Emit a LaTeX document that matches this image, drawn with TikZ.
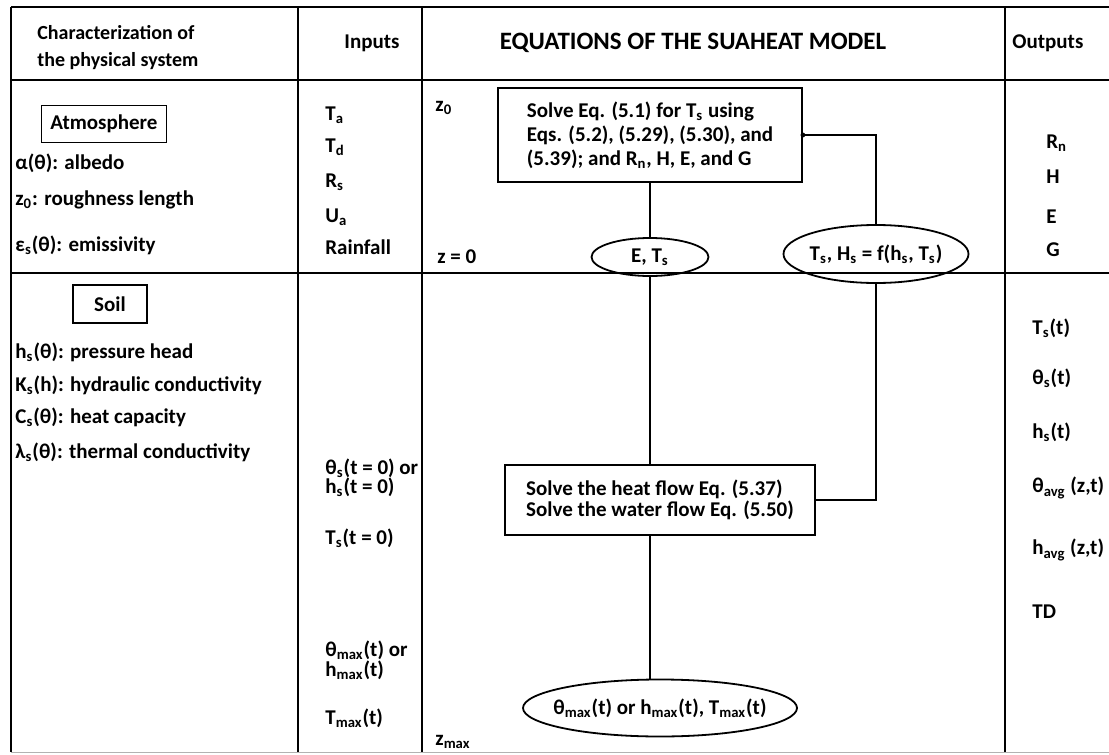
\documentclass[tikz,border=0pt]{standalone}
\usepackage{fontspec}
\setmainfont{Carlito}
\usetikzlibrary{positioning, shapes.geometric, calc}

\newcommand{\sbs}[1]{\textsubscript{#1}}

\begin{document}
\begin{tikzpicture}[
    x=0.5pt, y=-0.5pt,
    every node/.style={font=\bfseries\fontsize{10.5}{12}\selectfont},
    txt/.style={anchor=west, inner sep=0pt},
    rule/.style={line width=1pt},
    sysbox/.style={draw, line width=0.9pt, rectangle, inner sep=0pt},
    eqbox/.style={draw, line width=0.9pt, rectangle, align=left, inner sep=0pt},
    stateell/.style={draw, line width=0.9pt, ellipse, inner sep=0pt},
    link/.style={line width=0.9pt},
    feed/.style={line width=0.6pt},
]
    \useasboundingbox (0,0) rectangle (1109,755);

    % Table frame
    \draw[rule] (11,7) -- (1109,7);
    \draw[rule] (11,80) -- (1109,80);
    \draw[rule] (11,273) -- (1109,273);
    \draw[line width=0.5pt, gray!60] (11,752) -- (1109,752);
    \draw[rule] (11,7) -- (11,752);
    \foreach \x in {298,422,1005}
        \draw[rule] (\x,7) -- (\x,752);

    % Column headers
    \node[txt, align=left, font=\bfseries\fontsize{10}{13.5}\selectfont] (hchar) at (37,48)
        {Characterization of\\the physical system};
    \node (hin) at (372,43) {Inputs};
    \node[font=\bfseries\fontsize{12.5}{14}\selectfont] (heq) at (693,43) {EQUATIONS OF THE SUAHEAT MODEL};
    \node[txt] (hout) at (1012,43) {Outputs};

    % Physical system
    \node[sysbox, minimum width=62.5pt, minimum height=18.5pt] (atm) at (104,124) {Atmosphere};
    \node[txt] (albedo) at (15,163) {α(θ): albedo};
    \node[txt] (rough) at (15,200) {z\sbs{0}: roughness length};
    \node[txt] (emis) at (15,245) {ε\sbs{s}(θ): emissivity};

    \node[sysbox, minimum width=37pt, minimum height=19pt] (soil) at (110,304) {Soil};
    \node[txt] (phead) at (15,352) {h\sbs{s}(θ): pressure head};
    \node[txt] (hcond) at (15,385) {K\sbs{s}(h): hydraulic conductivity};
    \node[txt] (hcap) at (15,417) {C\sbs{s}(θ): heat capacity};
    \node[txt] (tcond) at (15,452) {λ\sbs{s}(θ): thermal conductivity};

    % Inputs
    \node[txt] (ta) at (325,115) {T\sbs{a}};
    \node[txt] (td) at (325,147) {T\sbs{d}};
    \node[txt] (rs) at (325,182) {R\sbs{s}};
    \node[txt] (ua) at (325,217) {U\sbs{a}};
    \node[txt] (rain) at (325,247) {Rainfall};
    \node[txt] (thini) at (325,468) {θ\sbs{s}(t = 0) or};
    \node[txt] (hini) at (325,487) {h\sbs{s}(t = 0)};
    \node[txt] (tini) at (325,538) {T\sbs{s}(t = 0)};
    \node[txt] (thmax) at (325,650) {θ\sbs{max}(t) or};
    \node[txt] (hmax) at (325,670) {h\sbs{max}(t)};
    \node[txt] (tmax) at (325,718) {T\sbs{max}(t)};

    % Depth marks
    \node[txt] (ztop) at (435,108) {z\sbs{0}};
    \node[txt] (zsurf) at (437,257) {z = 0};
    \node[txt] (zbot) at (435,742) {z\sbs{max}};

    % Model equations
    \node[eqbox, minimum width=152pt, minimum height=47pt] (solvesurf) at (650,135)
        {Solve Eq. (5.1) for T\sbs{s} using\\Eqs. (5.2), (5.29), (5.30), and\\(5.39); and R\sbs{n}, H, E, and G};
    \node[stateell, minimum width=58.5pt, minimum height=19pt,
          label=center:{E, T\sbs{s}}] (ellsurf) at (650,257) {};
    \node[stateell, minimum width=92.5pt, minimum height=29pt,
          label=center:{T\sbs{s}, H\sbs{s} = f(h\sbs{s}, T\sbs{s})}] (ellflux) at (876,254) {};
    \node[eqbox, minimum width=155pt, minimum height=35pt,
          font=\bfseries\fontsize{10.5}{10.5}\selectfont] (solveflow) at (660,500)
        {Solve the heat flow Eq. (5.37)\\Solve the water flow Eq. (5.50)};
    \node[stateell, minimum width=137pt, minimum height=28.5pt,
          label=center:{θ\sbs{max}(t) or h\sbs{max}(t), T\sbs{max}(t)}] (ellbot) at (660,708) {};

    \draw[link] (solvesurf) -- (ellsurf);
    \draw[link] (ellsurf.south) -- (ellsurf.south |- solveflow.north);
    \draw[link] (ellsurf.south |- solveflow.south) -- (ellsurf.south |- ellbot.north);
    \fill (solvesurf.east) circle (1.2pt);
    \draw[feed] (solvesurf.east) -| (ellflux.north);
    \draw[feed] (solveflow.east) -| (ellflux.south);

    % Outputs
    \node[txt] (rn) at (1046,143) {R\sbs{n}};
    \node[txt] (hout1) at (1046,177) {H};
    \node[txt] (eout) at (1046,217) {E};
    \node[txt] (gout) at (1046,250) {G};
    \node[txt] (tsout) at (1032,328) {T\sbs{s}(t)};
    \node[txt] (thout) at (1032,378) {θ\sbs{s}(t)};
    \node[txt] (hsout) at (1032,432) {h\sbs{s}(t)};
    \node[txt] (thavg) at (1032,488) {θ\sbs{avg} (z,t)};
    \node[txt] (havg) at (1032,550) {h\sbs{avg} (z,t)};
    \node[txt] (tdout) at (1032,612) {TD};
\end{tikzpicture}
\end{document}
